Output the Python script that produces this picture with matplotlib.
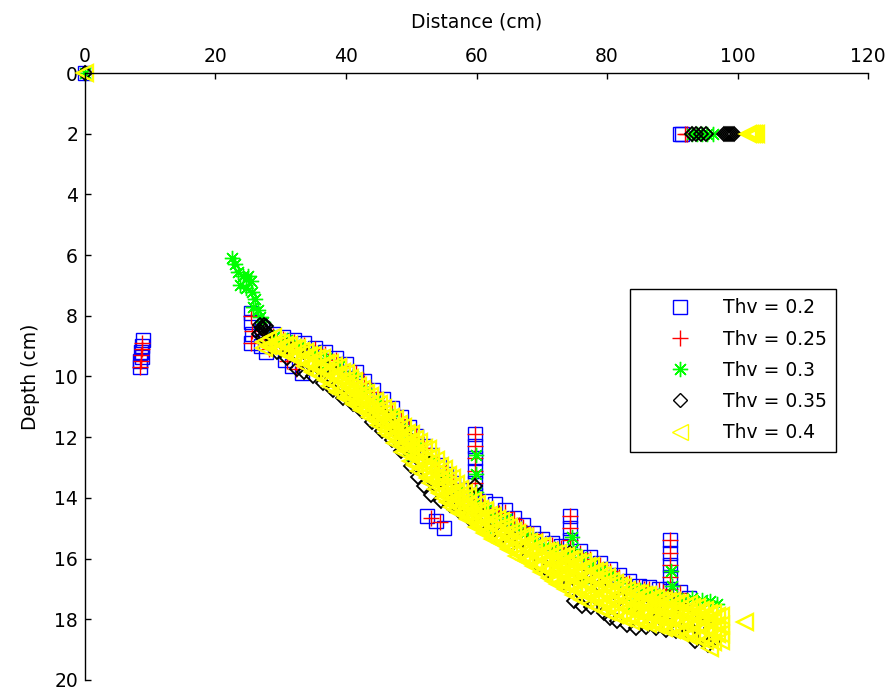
import numpy as np
import matplotlib.pyplot as plt

# threshold runs: (distance cm, depth cm) picked by each Thv setting
thv02 = [
    (0, 0),
    (8.9, 8.8), (8.8, 9.0), (8.6, 9.2), (8.7, 9.35), (8.5, 9.5), (8.4, 9.7),
    (91.2, 2.0), (91.5, 2.0),
    (25.4, 7.9), (25.5, 8.2), (25.6, 8.6), (25.5, 8.9), (27.0, 9.0), (27.8, 9.2),
    (27.2, 8.4), (28.8, 8.6), (30.4, 8.7), (32.0, 8.8), (33.6, 8.9), (35.2, 9.05),
    (36.8, 9.2), (38.4, 9.4), (40.0, 9.6), (41.5, 9.85), (42.8, 10.15), (44.2, 10.45),
    (45.6, 10.75), (47.0, 11.05), (48.4, 11.35), (49.6, 11.65), (50.8, 11.95), (52.0, 12.3),
    (53.1, 12.6), (54.2, 12.9), (55.3, 13.2), (56.4, 13.5), (57.5, 13.75), (58.5, 14.0),
    (59.7, 11.9), (59.7, 12.3), (59.7, 12.7), (59.7, 13.1), (59.7, 13.5), (59.7, 13.9), (59.7, 14.3),
    (61.3, 14.1), (62.8, 14.2), (64.3, 14.4), (65.8, 14.65), (67.2, 14.9), (68.6, 15.15),
    (70.0, 15.35), (71.5, 15.5), (73.0, 15.6),
    (74.4, 14.6), (74.4, 15.0), (74.4, 15.4),
    (75.9, 15.75), (77.4, 15.95), (78.9, 16.15), (80.4, 16.35), (81.9, 16.55), (83.4, 16.75),
    (84.9, 16.9), (86.4, 16.95), (87.9, 17.0),
    (89.6, 15.4), (89.6, 15.8), (89.6, 16.2), (89.6, 16.6), (89.6, 17.0),
    (91.2, 17.1), (92.6, 17.3),
    (30.6, 9.45), (31.8, 9.65), (33.2, 9.9),
    (52.4, 14.6), (53.8, 14.75), (55.0, 15.0),
]

thv025 = [
    (0, 0),
    (8.8, 8.9), (8.7, 9.1), (8.6, 9.3), (8.6, 9.5), (8.5, 9.7),
    (91.9, 2.0), (92.3, 2.0),
    (25.5, 8.0), (25.6, 8.5), (25.5, 8.9), (27.4, 8.6), (28.2, 9.1),
    (28.8, 8.65), (30.4, 8.75), (32.0, 8.85), (33.6, 8.95), (35.2, 9.1),
    (36.8, 9.25), (38.4, 9.45), (40.0, 9.65), (41.5, 9.9), (42.8, 10.2), (44.2, 10.5),
    (45.6, 10.8), (47.0, 11.1), (48.4, 11.4), (49.6, 11.7), (50.8, 12.0), (52.0, 12.35),
    (53.1, 12.65), (54.2, 12.95), (55.3, 13.25), (56.4, 13.55), (57.5, 13.8), (58.5, 14.05),
    (59.7, 11.9), (59.7, 12.3), (59.7, 12.7), (59.7, 13.1), (59.7, 13.5), (59.7, 13.9), (59.7, 14.3),
    (61.0, 14.3), (61.8, 14.35), (62.6, 14.4), (63.5, 14.5), (64.3, 14.45), (65.8, 14.7),
    (66.5, 14.9), (67.2, 14.95), (68.6, 15.2), (70.0, 15.4), (71.5, 15.55), (72.3, 15.7), (73.0, 15.65),
    (74.4, 14.6), (74.4, 15.0), (74.4, 15.4),
    (75.9, 15.8), (77.4, 16.0), (78.9, 16.2), (79.6, 16.4), (80.4, 16.4), (81.9, 16.6),
    (83.4, 16.8), (84.9, 16.95), (85.6, 17.0), (86.4, 17.0), (87.9, 17.05), (88.6, 17.1),
    (89.6, 15.4), (89.6, 15.8), (89.6, 16.2), (89.6, 16.6), (89.6, 17.0),
    (91.2, 17.15), (31.0, 9.5), (32.4, 9.75), (54.4, 14.8), (53.0, 14.65),
]

thv03 = [
    (0, 0),
    (93.0, 2.0), (93.8, 2.0), (94.6, 2.0), (95.4, 2.0), (96.2, 2.0),
    (22.6, 6.1), (23.0, 6.3), (23.4, 6.55), (24.2, 6.7), (25.0, 6.7), (25.4, 6.85),
    (23.8, 7.0), (24.6, 7.1), (25.6, 7.2), (26.0, 7.45), (25.8, 7.7), (26.5, 7.8),
    (26.8, 8.05), (27.3, 8.2),
    (29.0, 8.7), (31.0, 8.8), (33.0, 9.0), (35.0, 9.2), (37.0, 9.4), (39.0, 9.65),
    (41.0, 10.0), (43.0, 10.4), (45.0, 10.85), (47.0, 11.3), (49.0, 11.75), (51.0, 12.2),
    (53.0, 12.75), (55.0, 13.3), (57.0, 13.8), (59.0, 14.1),
    (59.9, 12.6), (59.9, 13.2), (59.9, 13.8), (60.2, 14.3),
    (61.5, 14.4), (63.0, 14.6), (64.5, 14.7), (66.0, 14.95), (67.5, 15.15), (69.0, 15.4),
    (70.5, 15.6), (72.0, 15.7), (73.5, 15.8), (74.6, 15.3), (74.8, 15.7), (76.0, 15.95),
    (77.5, 16.2), (79.0, 16.4), (80.5, 16.55), (82.0, 16.8), (83.5, 16.95), (85.0, 17.05),
    (86.5, 17.15), (88.0, 17.2), (89.8, 16.4), (89.9, 16.9), (90.0, 17.4), (91.5, 17.35),
    (93.0, 17.3), (94.5, 17.35), (95.8, 17.4), (96.8, 17.5),
    (36.0, 9.8), (44.0, 11.2), (50.0, 12.6), (62.0, 15.0), (76.0, 16.8), (84.0, 17.5),
]

thv035 = [
    (0, 0),
    (93.0, 2.0), (93.7, 2.0), (94.4, 2.0), (95.1, 2.0),
    (97.9, 2.0), (98.2, 2.0), (98.5, 2.0), (98.8, 2.0), (99.1, 2.0), (99.4, 2.0),
    (26.8, 8.3), (27.1, 8.4), (27.4, 8.3), (27.0, 8.55), (27.6, 8.5), (27.3, 8.7),
    (28.0, 8.6), (26.6, 8.6), (27.8, 8.35),
    (29.5, 9.2), (31.0, 9.4), (32.5, 9.75), (33.5, 9.85), (35.0, 10.0), (36.5, 10.2),
    (38.0, 10.45), (39.5, 10.7), (41.0, 10.9), (42.5, 11.15), (44.0, 11.5), (45.5, 11.8),
    (47.0, 12.1), (48.5, 12.45), (50.0, 12.95), (51.0, 13.3), (52.0, 13.6), (53.0, 13.9),
    (54.5, 14.1), (56.0, 14.25), (57.5, 14.45), (59.0, 14.7), (60.5, 14.85), (62.0, 15.1),
    (63.5, 15.35), (65.0, 15.55), (66.5, 15.75), (68.0, 16.0), (69.5, 16.2), (71.0, 16.4),
    (72.5, 16.7), (74.0, 16.95), (75.0, 17.4), (76.2, 17.55), (77.5, 17.6), (79.5, 17.8),
    (80.5, 17.95), (81.5, 18.05), (83.0, 18.2), (84.5, 18.3), (86.0, 18.25), (87.5, 18.3),
    (89.0, 18.35), (90.5, 18.4), (92.5, 18.5), (93.5, 18.7), (94.5, 18.6), (95.5, 18.85),
    (96.3, 18.7),
    (31.0, 9.0), (34.0, 9.3), (37.0, 9.7), (40.0, 10.2), (43.0, 10.8), (46.0, 11.3),
    (49.0, 11.9), (52.0, 12.6), (55.0, 13.5), (58.0, 14.2), (61.0, 14.6), (64.0, 15.1),
    (67.0, 15.4), (70.0, 15.9), (73.0, 16.2), (76.0, 16.5), (79.0, 16.9), (82.0, 17.3),
    (85.0, 17.6), (88.0, 17.8), (91.0, 18.0), (94.0, 18.1), (96.0, 18.3),
    (59.8, 13.6), (74.4, 15.8), (89.5, 17.3), (89.7, 17.8),
    (38.5, 9.9), (47.5, 11.6), (56.5, 13.8), (65.5, 15.3), (71.5, 16.0), (78.0, 16.7),
    (87.0, 17.4), (92.0, 17.7),
]

# Thv = 0.4 band: one column of depths per distance
thv04_cols = [
    27.5, 28.75, 30.0, 31.25, 32.5, 33.75, 35.0, 36.25, 37.5, 38.75,
    40.0, 41.25, 42.5, 43.75, 45.0, 46.25, 47.5, 48.75, 50.0, 51.25,
    52.5, 53.75, 55.0, 56.25, 57.5, 58.75, 60.0, 61.25, 62.5, 63.75,
    65.0, 66.25, 67.5, 68.75, 70.0, 71.25, 72.5, 73.75, 75.0, 76.25,
    77.5, 78.75, 80.0, 81.25, 82.5, 83.75, 85.0, 86.25, 87.5, 88.75,
    90.0, 91.25, 92.5, 93.75, 95.0, 96.25, 97.5,
]
thv04_rows = [
    [8.85, 9.05], [8.7, 8.95], [8.9, 9.1], [8.95, 9.25], [9.05, 9.35],
    [9.2, 9.5, 9.65], [9.3, 9.6, 9.85], [9.4, 9.7, 10.0], [9.55, 9.85, 10.15, 10.3], [9.7, 10.0, 10.3, 10.5],
    [9.9, 10.2, 10.5, 10.7], [10.15, 10.45, 10.75, 10.9], [10.4, 10.7, 11.0, 11.1], [10.65, 10.95, 11.25, 11.35], [10.9, 11.2, 11.5, 11.6],
    [11.15, 11.45, 11.75, 11.85], [11.4, 11.7, 12.0, 12.2], [11.65, 11.95, 12.25, 12.5], [11.9, 12.2, 12.5, 12.8], [12.15, 12.45, 12.75, 13.1],
    [12.4, 12.7, 13.0, 13.35], [12.75, 13.05, 13.35, 13.7], [13.05, 13.35, 13.65, 14.0], [13.35, 13.65, 13.95, 14.3], [13.7, 14.0, 14.3, 14.5],
    [13.95, 14.25, 14.55, 14.7], [14.2, 14.5, 14.8, 14.95], [14.4, 14.7, 15.0, 15.15], [14.6, 14.9, 15.2, 15.35], [14.75, 15.05, 15.35, 15.5],
    [14.95, 15.25, 15.55, 15.7], [15.15, 15.45, 15.75, 15.9], [15.3, 15.6, 15.9, 16.05], [15.5, 15.8, 16.1, 16.25], [15.6, 15.9, 16.2, 16.45],
    [15.75, 16.05, 16.35, 16.65], [15.8, 16.1, 16.4, 16.7, 16.85], [15.9, 16.2, 16.5, 16.8, 17.0], [16.0, 16.3, 16.6, 16.9, 17.2], [16.1, 16.4, 16.7, 17.0, 17.35],
    [16.25, 16.55, 16.85, 17.15, 17.5], [16.4, 16.7, 17.0, 17.3, 17.6], [16.6, 16.9, 17.2, 17.5, 17.75], [16.8, 17.1, 17.4, 17.7, 17.85], [16.95, 17.25, 17.55, 17.95],
    [17.1, 17.4, 17.7, 18.05], [17.15, 17.45, 17.75, 18.1], [17.2, 17.5, 17.8, 18.15], [17.3, 17.6, 17.9, 18.2], [17.35, 17.65, 17.95, 18.3],
    [17.4, 17.7, 18.0, 18.35], [17.45, 17.75, 18.05, 18.45], [17.5, 17.8, 18.1, 18.55], [17.6, 17.9, 18.2, 18.6], [17.7, 18.0, 18.3, 18.7],
    [17.8, 18.1, 18.4, 18.75], [17.9, 18.2, 18.5, 18.7],
]
# second, staggered set of Thv = 0.4 picks between the columns above
thv04_cols2 = [
    28.1, 29.4, 30.6, 31.9, 33.1, 34.4, 35.6, 36.9, 38.1, 39.4,
    40.6, 41.9, 43.1, 44.4, 45.6, 46.9, 48.1, 49.4, 50.6, 51.9,
    53.1, 54.4, 55.6, 56.9, 58.1, 59.4, 60.6, 61.9, 63.1, 64.4,
    65.6, 66.9, 68.1, 69.4, 70.6, 71.9, 73.1, 74.4, 75.6, 76.9,
    78.1, 79.4, 80.6, 81.9, 83.1, 84.4, 85.6, 86.9, 88.1, 89.4,
    90.6, 91.9, 93.1, 94.4, 95.6, 96.9,
]
thv04_rows2 = [
    [8.8, 9.0], [8.85, 9.1], [8.95, 9.2], [9.05, 9.35], [9.15, 9.45],
    [9.3, 9.6], [9.4, 9.7], [9.55, 9.85, 10.1], [9.65, 9.95, 10.25], [9.85, 10.15, 10.45],
    [10.05, 10.35, 10.65], [10.3, 10.6, 10.9], [10.55, 10.85, 11.15], [10.8, 11.1, 11.4], [11.05, 11.35, 11.65],
    [11.35, 11.65, 11.95], [11.55, 11.85, 12.15], [11.85, 12.15, 12.45], [12.05, 12.35, 12.65, 12.9], [12.35, 12.65, 12.95, 13.2],
    [12.65, 12.95, 13.25, 13.5], [12.95, 13.25, 13.55, 13.85], [13.25, 13.55, 13.85, 14.15], [13.55, 13.85, 14.15, 14.4], [13.85, 14.15, 14.45],
    [14.1, 14.4, 14.7], [14.35, 14.65, 14.95], [14.55, 14.85, 15.15], [14.7, 15.0, 15.3], [14.9, 15.2, 15.5],
    [15.1, 15.4, 15.7], [15.25, 15.55, 15.85], [15.45, 15.75, 16.05], [15.6, 15.9, 16.2], [15.75, 16.05, 16.35],
    [15.85, 16.15, 16.45, 16.75], [15.9, 16.2, 16.5, 16.8], [16.0, 16.3, 16.6, 16.9], [16.1, 16.4, 16.7, 17.05], [16.25, 16.55, 16.85, 17.2],
    [16.4, 16.7, 17.0, 17.3], [16.55, 16.85, 17.15, 17.45], [16.75, 17.05, 17.35, 17.65], [16.9, 17.2, 17.5, 17.8], [17.05, 17.35, 17.65, 17.9],
    [17.15, 17.45, 17.75, 18.0], [17.2, 17.5, 17.8, 18.05], [17.3, 17.6, 17.9, 18.1], [17.35, 17.65, 17.95, 18.2], [17.4, 17.7, 18.0, 18.25],
    [17.45, 17.75, 18.05, 18.3], [17.55, 17.85, 18.15, 18.4], [17.6, 17.9, 18.2, 18.45], [17.7, 18.0, 18.3, 18.55], [17.8, 18.1, 18.4, 18.65],
    [17.9, 18.2, 18.5],
]
thv04_extra = [
    (0, 0),
    (101.6, 2.0), (101.9, 2.0), (102.2, 2.0), (102.5, 2.0), (102.8, 2.0),
    (101.1, 18.1), (95.8, 18.95),
]

labels = ['Thv = 0.2', 'Thv = 0.25', 'Thv = 0.3', 'Thv = 0.35', 'Thv = 0.4']


def unzip(pts):
    a = np.array(pts, dtype=float)
    return a[:, 0], a[:, 1]


yel = [(c, d) for c, ds in zip(thv04_cols, thv04_rows) for d in ds]
yel += [(c, d) for c, ds in zip(thv04_cols2, thv04_rows2) for d in ds]
yel += thv04_extra

plt.rcParams['font.family'] = 'DejaVu Sans'
fig = plt.figure(figsize=(8.9, 6.9), dpi=100)
ax = fig.add_axes([0.0955, 0.0145, 0.8798, 0.8797])

styles = [
    (thv02, dict(marker='s', ms=10, mec='b')),
    (thv025, dict(marker='+', ms=11, mec='r')),
    (thv03, dict(marker=(8, 2, 0), ms=11, mec=(0, 1, 0))),
    (thv035, dict(marker='D', ms=7.5, mec='k', mew=1.3)),
    (yel, dict(marker='<', ms=11.5, mec=(1, 1, 0), mew=1.7)),
]
for (pts, st), lab in zip(styles, labels):
    x, y = unzip(pts)
    kw = dict(ls='none', mfc='none', mew=1.0, clip_on=False, label=lab)
    kw.update(st)
    ax.plot(x, y, **kw)

ax.set_xlim(0, 120)
ax.set_ylim(20, 0)
ax.set_xticks(np.arange(0, 121, 20))
ax.set_yticks(np.arange(0, 21, 2))
ax.xaxis.tick_top()
ax.xaxis.set_label_position('top')
ax.tick_params(direction='in', length=4, width=1.0, labelsize=13.5, pad=5,
               top=True, bottom=False, left=True, right=False)
for s in ['right', 'bottom']:
    ax.spines[s].set_visible(False)
for s in ['left', 'top']:
    ax.spines[s].set_linewidth(1.0)
ax.set_xlabel('Distance (cm)', fontsize=13.5, labelpad=14)
ax.set_ylabel('Depth (cm)', fontsize=13.5, labelpad=10)

leg = ax.legend(loc='upper left', bbox_to_anchor=(0.696, 0.644), fontsize=13.5,
                numpoints=1, fancybox=False, framealpha=1, edgecolor='k',
                borderaxespad=0, borderpad=0.5, handlelength=4.3,
                handletextpad=0.15, labelspacing=0.65)
leg.get_frame().set_linewidth(1.0)
for h in leg.legend_handles:
    h.set_markeredgewidth(1.0)

fig.savefig('out.png', dpi=100)
